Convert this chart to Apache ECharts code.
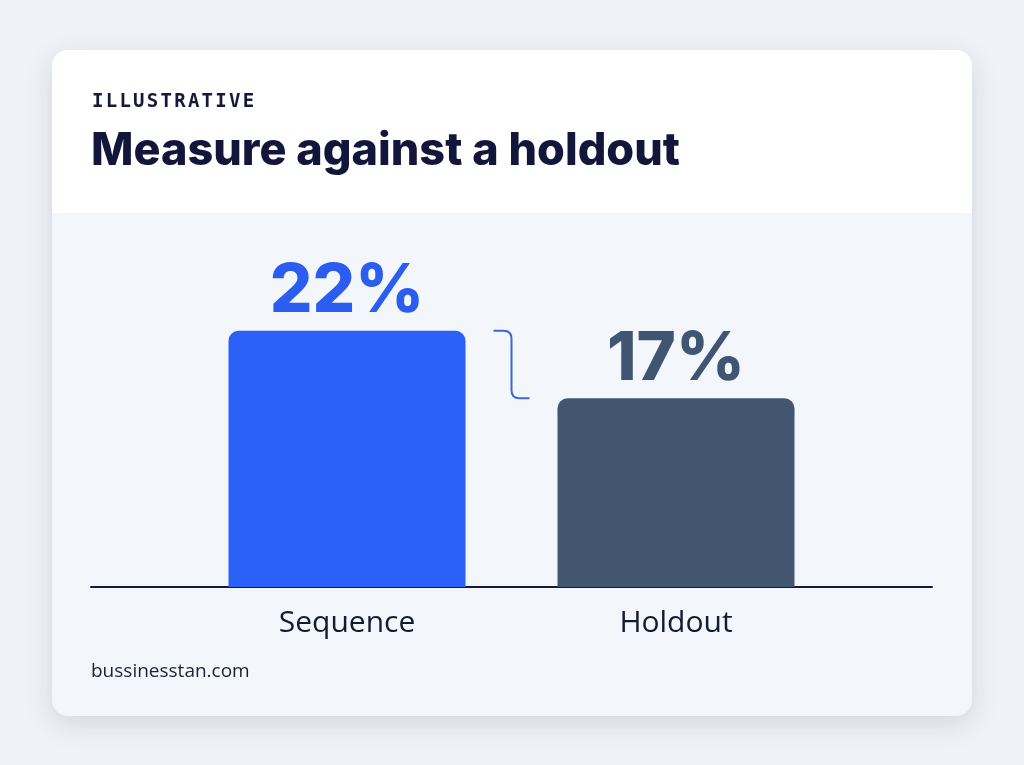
<!DOCTYPE html>
<html>
<head>
<meta charset="utf-8">
<script src="https://cdn.jsdelivr.net/npm/echarts@6/dist/echarts.min.js"></script>
<style>
html,body{margin:0;padding:0;background:#eff2f6;}
#c{width:1024px;height:765px;}
</style>
</head>
<body>
<div id="c"></div>
<script>
const categories = ['Sequence', 'Holdout'];
const values = [22, 17];
const barColors = ['#2b61f6', '#42566f'];
const labelColors = ['#2b5ef0', '#3f5571'];
const kicker = 'ILLUSTRATIVE';
const title = 'Measure against a holdout';
const source = 'bussinesstan.com';

const chart = echarts.init(document.getElementById('c'), null, {renderer: 'canvas'});

// spaced-out kicker letters (canvas text has no letter-spacing)
const kickerChars = kicker.split('').map((ch, i) => ({
  type: 'text', z: 5, x: 92 + i * 13.7, y: 93,
  style: {text: ch, font: 'bold 19px "DejaVu Sans Mono"', fill: '#141a38'}
}));

const option = {
  backgroundColor: '#eff2f6',
  animation: false,
  graphic: [
    {type: 'rect', z: 0, shape: {x: 52, y: 50, width: 920, height: 666, r: 16},
     style: {fill: '#f3f7fc', shadowBlur: 28, shadowColor: 'rgba(30,40,70,0.13)', shadowOffsetY: 8}},
    {type: 'rect', z: 1, shape: {x: 52, y: 50, width: 920, height: 163, r: [16, 16, 0, 0]},
     style: {fill: '#ffffff'}}
  ].concat(kickerChars).concat([
    {type: 'text', z: 5, left: 91, top: 129,
     style: {text: title, font: '800 45px Inter', fill: '#11163a'}},
    {type: 'text', z: 5, left: 91, top: 662,
     style: {text: source, font: '400 19px "Open Sans"', fill: '#1c2035'}}
  ]),
  grid: [
    {left: 182.5, right: 1024 - 840.5, top: 223, bottom: 178},
    {left: 91, right: 92, top: 223, bottom: 178}
  ],
  xAxis: [
    {type: 'category', gridIndex: 0, data: categories,
     axisLine: {show: false}, axisTick: {show: false},
     axisLabel: {color: '#151a33', fontSize: 30, fontFamily: 'Open Sans', margin: 21}},
    {type: 'category', gridIndex: 1, data: [''],
     axisLine: {show: true, lineStyle: {color: '#141a38', width: 2}},
     axisTick: {show: false}, axisLabel: {show: false}}
  ],
  yAxis: [
    {type: 'value', gridIndex: 0, min: 3, max: 30, show: false, splitLine: {show: false}},
    {type: 'value', gridIndex: 1, min: 3, max: 30, show: false, splitLine: {show: false}}
  ],
  series: [
    {type: 'bar', xAxisIndex: 0, yAxisIndex: 0, barWidth: 237, z: 3,
     data: values.map((v, i) => ({value: v, itemStyle: {color: barColors[i], borderRadius: [10, 10, 0, 0]},
       label: {color: labelColors[i]}})),
     label: {show: true, position: 'top', distance: 5, formatter: '{c}%',
       fontFamily: 'Inter', fontWeight: 800, fontSize: 67}},
    {type: 'custom', xAxisIndex: 0, yAxisIndex: 0, z: 4,
     data: [[0, values[0], 1, values[1]]],
     renderItem: function (params, api) {
       const p1 = api.coord([api.value(0), api.value(1)]);
       const p2 = api.coord([api.value(2), api.value(3)]);
       const half = 237 / 2;
       const x0 = p1[0] + half + 28;
       const x1 = p2[0] - half - 28;
       const xm = (x0 + x1) / 2;
       const r = 8;
       const path = 'M' + x0 + ',' + p1[1] + ' L' + (xm - r) + ',' + p1[1] +
         ' Q' + xm + ',' + p1[1] + ' ' + xm + ',' + (p1[1] + r) +
         ' L' + xm + ',' + (p2[1] - r) +
         ' Q' + xm + ',' + p2[1] + ' ' + (xm + r) + ',' + p2[1] +
         ' L' + x1 + ',' + p2[1];
       return {type: 'path', shape: {pathData: path},
         style: {fill: 'none', stroke: '#3b66d8', lineWidth: 2}};
     }}
  ]
};
chart.setOption(option);
</script>
</body>
</html>
